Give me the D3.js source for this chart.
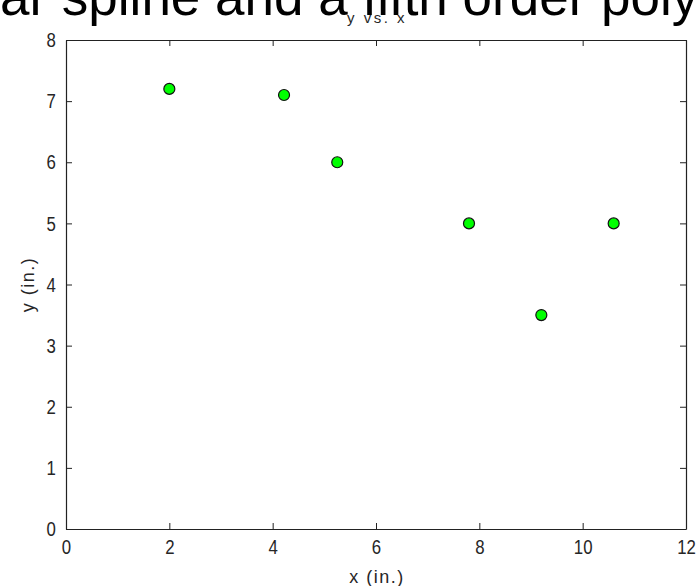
<!DOCTYPE html>
<html>
<head>
<meta charset="utf-8">
<script src="https://cdn.jsdelivr.net/npm/d3@7"></script>
<style>
  body { margin: 0; background: #fff; overflow: hidden; }
  .tick text {
    font-family: "Liberation Sans", Arial, sans-serif; font-size: 21px; fill: #262626;
    transform-box: fill-box; transform-origin: center; transform: scaleX(0.8);
  }
  .axisText {
    font-family: "Liberation Sans", Arial, sans-serif; font-size: 18px; fill: #262626;
    letter-spacing: 1.5px;
  }
</style>
</head>
<body>
<div id="chart"></div>
<script>
// data
const xValues = [2, 4.22, 5.25, 7.8, 9.2, 10.6];
const yValues = [7.2, 7.1, 6, 5, 3.5, 5];
const xTicks = [0, 2, 4, 6, 8, 10, 12];
const yTicks = [0, 1, 2, 3, 4, 5, 6, 7, 8];

const svgWidth = 700;
const svgHeight = 586;

const margin = { top: 40, right: 14, bottom: 57, left: 66 };
const width = svgWidth - margin.left - margin.right;
const height = svgHeight - margin.top - margin.bottom;

const svg = d3.select("#chart")
  .append("svg")
  .attr("width", svgWidth)
  .attr("height", svgHeight);

// big heading, cut off by the top edge
svg.append("text")
  .attr("x", 0)
  .attr("y", 15)
  .style("font-family", "'Liberation Sans', Arial, sans-serif")
  .style("font-size", "53px")
  .style("fill", "#000")
  .text("ar spline and a fifth order poly");

const chartGroup = svg.append("g")
  .attr("transform", `translate(${margin.left}, ${margin.top})`);

const xScale = d3.scaleLinear().domain([0, 12]).range([0, width]);
const yScale = d3.scaleLinear().domain([0, 8]).range([height, 0]);

// axes, ticks inside the box
const bottomAxis = d3.axisBottom(xScale).tickValues(xTicks).tickSizeInner(-6).tickSizeOuter(0).tickPadding(10);
const leftAxis = d3.axisLeft(yScale).tickValues(yTicks).tickSizeInner(-6).tickSizeOuter(0).tickPadding(9);
const topAxis = d3.axisTop(xScale).tickValues(xTicks).tickSizeInner(-6).tickSizeOuter(0).tickFormat("");
const rightAxis = d3.axisRight(yScale).tickValues(yTicks).tickSizeInner(-6).tickSizeOuter(0).tickFormat("");

chartGroup.append("g").attr("transform", `translate(0, ${height})`).call(bottomAxis);
chartGroup.append("g").call(leftAxis);
chartGroup.append("g").call(topAxis);
chartGroup.append("g").attr("transform", `translate(${width}, 0)`).call(rightAxis);

chartGroup.selectAll(".domain").attr("stroke", "#222").attr("stroke-width", 1.2);
chartGroup.selectAll(".tick line").attr("stroke", "#222");

// points
chartGroup.selectAll("circle")
  .data(xValues)
  .enter()
  .append("circle")
  .attr("cx", d => xScale(d))
  .attr("cy", (d, i) => yScale(yValues[i]))
  .attr("r", 5.5)
  .attr("fill", "#00ff00")
  .attr("stroke", "#111")
  .attr("stroke-width", 1.2);

// titles
chartGroup.append("text")
  .attr("x", width / 2 + 1)
  .attr("y", -17)
  .attr("text-anchor", "middle")
  .attr("class", "axisText")
  .style("font-size", "15px")
  .style("letter-spacing", "2.5px")
  .text("y vs. x");

chartGroup.append("text")
  .attr("x", width / 2 + 1)
  .attr("y", height + 54)
  .attr("text-anchor", "middle")
  .attr("class", "axisText")
  .text("x (in.)");

chartGroup.append("text")
  .attr("transform", "rotate(-90)")
  .attr("x", -height / 2)
  .attr("y", -32)
  .attr("text-anchor", "middle")
  .attr("class", "axisText")
  .text("y (in.)");
</script>
</body>
</html>
